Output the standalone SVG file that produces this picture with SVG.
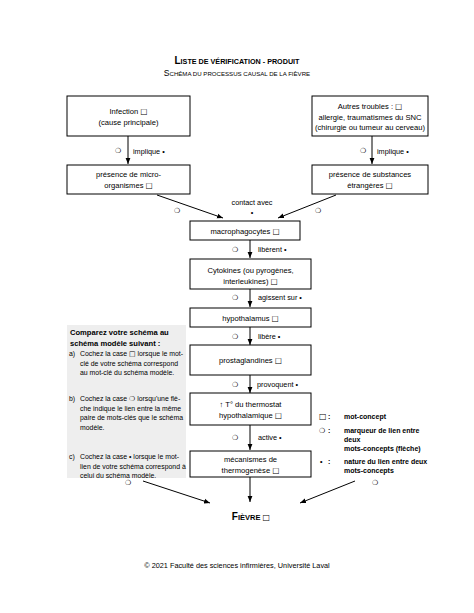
<svg xmlns="http://www.w3.org/2000/svg" width="474" height="613" viewBox="0 0 474 613">
<style>
text{font-family:"Liberation Sans",Arial,sans-serif;fill:#000}
.t{font-size:7.6px;text-anchor:middle}
.l{font-size:7.3px}
.p{font-size:6.9px}
.b{font-weight:bold}
.s{font-family:"DejaVu Sans",sans-serif}
.box{fill:#fff;stroke:#000;stroke-width:1}
.c{stroke:#000;stroke-width:1;fill:none;marker-end:url(#ah)}
</style>
<defs>
<marker id="ah" viewBox="0 0 6 6" refX="6" refY="3" markerWidth="6" markerHeight="6" markerUnits="userSpaceOnUse" orient="auto">
<path d="M0,0.6 L6,3 L0,5.4 Z" fill="#000"/>
</marker>
</defs>
<rect width="474" height="613" fill="#fff"/>

<g id="title">
<text x="237" y="64" text-anchor="middle" class="b"><tspan font-size="10">L</tspan><tspan font-size="7.2">ISTE DE VÉRIFICATION - PRODUIT</tspan></text>
<text x="237" y="76" text-anchor="middle"><tspan font-size="8.5">S</tspan><tspan font-size="6.1">CHÉMA DU PROCESSUS CAUSAL DE LA FIÈVRE</tspan></text>
</g>

<g id="panel">
<rect x="67" y="325" width="119" height="153" fill="#eeeeee"/>
<text class="b" font-size="7.6" x="70" y="335">Comparez votre schéma au</text>
<text class="b" font-size="7.6" x="70" y="346">schéma modèle suivant :</text>
<text class="p" x="69" y="356">a)</text>
<text class="p" x="80" y="356">Cochez la case <tspan class="s">□</tspan> lorsque le mot-</text>
<text class="p" x="80" y="365.5">clé de votre schéma correspond</text>
<text class="p" x="80" y="375">au mot-clé du schéma modèle.</text>
<text class="p" x="69" y="401">b)</text>
<text class="p" x="80" y="401">Cochez la case <tspan class="s">❍</tspan> lorsqu'une flè-</text>
<text class="p" x="80" y="410.5">che indique le lien entre la même</text>
<text class="p" x="80" y="420">paire de mots-clés que le schéma</text>
<text class="p" x="80" y="429.5">modèle.</text>
<text class="p" x="69" y="459">c)</text>
<text class="p" x="80" y="459">Cochez la case • lorsque le mot-</text>
<text class="p" x="80" y="468.5">lien de votre schéma correspond à</text>
<text class="p" x="80" y="478">celui du schéma modèle.</text>
</g>

<g id="connectors">
<line class="c" x1="128" y1="136" x2="128" y2="164"/>
<line class="c" x1="372" y1="136" x2="372" y2="164"/>
<line class="c" x1="157" y1="195" x2="223" y2="218"/>
<line class="c" x1="336" y1="195" x2="278" y2="218"/>
<line class="c" x1="250" y1="240" x2="250" y2="258"/>
<line class="c" x1="250" y1="289" x2="250" y2="307"/>
<line class="c" x1="250" y1="327" x2="250" y2="345"/>
<line class="c" x1="250" y1="375" x2="250" y2="393"/>
<line class="c" x1="250" y1="425" x2="250" y2="450"/>
<line class="c" x1="250" y1="477" x2="250" y2="502"/>
<line class="c" x1="143" y1="481" x2="210" y2="503"/>
<line class="c" x1="355" y1="481" x2="300" y2="503"/>
<g class="l">
<text class="s" font-size="7" x="115" y="153">❍</text>
<text x="133" y="154">implique •</text>
<text class="s" font-size="7" x="360" y="153">❍</text>
<text x="377" y="154">implique •</text>
<text x="252" y="205" text-anchor="middle">contact avec</text>
<text x="252" y="215" text-anchor="middle">•</text>
<text class="s" font-size="7" x="174" y="213">❍</text>
<text class="s" font-size="7" x="315" y="213">❍</text>
<text class="s" font-size="7" x="232" y="252">❍</text>
<text x="258" y="252">libèrent •</text>
<text class="s" font-size="7" x="232" y="300">❍</text>
<text x="258" y="300">agissent sur •</text>
<text class="s" font-size="7" x="232" y="339">❍</text>
<text x="258" y="339">libère •</text>
<text class="s" font-size="7" x="232" y="387">❍</text>
<text x="257" y="387">provoquent •</text>
<text class="s" font-size="7" x="232" y="440">❍</text>
<text x="258" y="440">active •</text>
<text class="s" font-size="7" x="125" y="485">❍</text>
<text class="s" font-size="7" x="372" y="485">❍</text>
</g>
</g>

<g id="n-infection">
<rect class="box" x="67" y="96" width="123" height="40"/>
<text class="t" x="128.5" y="114">Infection <tspan class="s">□</tspan></text>
<text class="t" x="128.5" y="125">(cause principale)</text>
</g>
<g id="n-autres">
<rect class="box" x="312" y="96" width="116" height="40"/>
<text class="t" x="370" y="109">Autres troubles : <tspan class="s">□</tspan></text>
<text class="t" x="370" y="119.5">allergie, traumatismes du SNC</text>
<text class="t" x="370" y="130">(chirurgie ou tumeur au cerveau)</text>
</g>
<g id="n-micro">
<rect class="box" x="67" y="165" width="123" height="29"/>
<text class="t" x="128.5" y="177">présence de micro-</text>
<text class="t" x="128.5" y="188">organismes <tspan class="s">□</tspan></text>
</g>
<g id="n-substances">
<rect class="box" x="312" y="165" width="116" height="29"/>
<text class="t" x="370" y="177">présence de substances</text>
<text class="t" x="370" y="188">étrangères <tspan class="s">□</tspan></text>
</g>
<g id="n-macro">
<rect class="box" x="190" y="221" width="110" height="19"/>
<text class="t" x="245" y="233.5">macrophagocytes <tspan class="s">□</tspan></text>
</g>
<g id="n-cyto">
<rect class="box" x="190" y="259" width="121" height="30"/>
<text class="t" x="250.5" y="272.5">Cytokines (ou pyrogènes,</text>
<text class="t" x="250.5" y="283.5">interleukines) <tspan class="s">□</tspan></text>
</g>
<g id="n-hypo">
<rect class="box" x="190" y="308" width="121" height="19"/>
<text class="t" x="250.5" y="320.5">hypothalamus <tspan class="s">□</tspan></text>
</g>
<g id="n-prosta">
<rect class="box" x="190" y="345" width="121" height="30"/>
<text class="t" x="250.5" y="362.5">prostaglandines <tspan class="s">□</tspan></text>
</g>
<g id="n-temp">
<rect class="box" x="190" y="393" width="121" height="32"/>
<text class="t" x="250.5" y="406.5">↑ T° du thermostat</text>
<text class="t" x="250.5" y="417.5">hypothalamique <tspan class="s">□</tspan></text>
</g>
<g id="n-meca">
<rect class="box" x="190" y="451" width="121" height="26"/>
<text class="t" x="250.5" y="462">mécanismes de</text>
<text class="t" x="250.5" y="473">thermogenèse <tspan class="s">□</tspan></text>
</g>
<g id="n-fievre">
<text x="251" y="520" text-anchor="middle" class="b"><tspan font-size="10">F</tspan><tspan font-size="7.5">IÈVRE </tspan><tspan class="s" font-size="8" font-weight="normal">□</tspan></text>
</g>

<g id="legend" class="b" font-size="7">
<text class="s" font-size="8" font-weight="normal" x="319" y="419">□</text>
<text x="328" y="419">:</text>
<text x="344" y="419">mot-concept</text>
<text class="s" font-size="7" font-weight="normal" x="319" y="433">❍</text>
<text x="328" y="433">:</text>
<text x="344" y="433">marqueur de lien entre</text>
<text x="344" y="442">deux</text>
<text x="344" y="451">mots-concepts (flèche)</text>
<text x="320" y="464">•</text>
<text x="328" y="464">:</text>
<text x="344" y="464">nature du lien entre deux</text>
<text x="344" y="473">mots-concepts</text>
</g>

<g id="footer">
<text class="l" x="237" y="568" text-anchor="middle">© 2021 Faculté des sciences infirmières, Université Laval</text>
</g>
</svg>
